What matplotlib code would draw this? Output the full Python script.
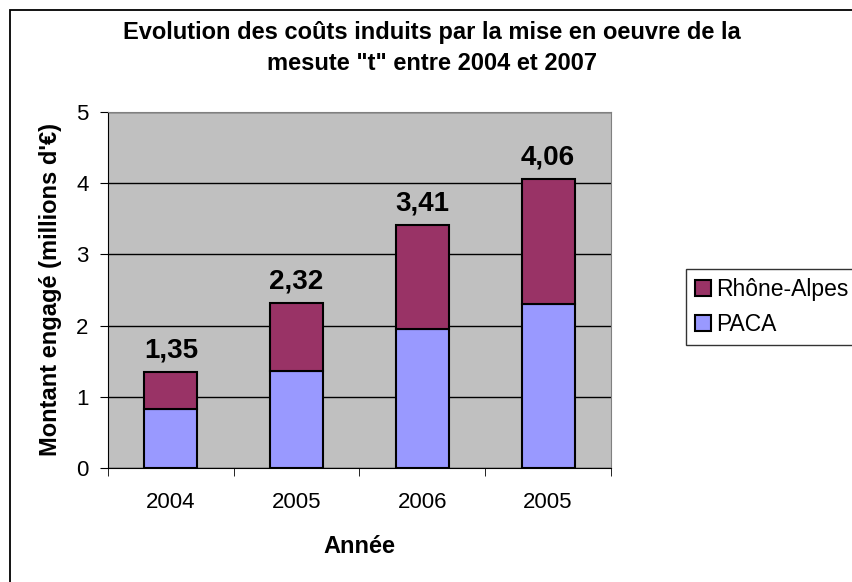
import matplotlib
matplotlib.use("Agg")
import matplotlib.pyplot as plt
from matplotlib.patches import Rectangle
import numpy as np

plt.rcParams["font.family"] = ["Liberation Sans", "DejaVu Sans"]

years = ["2004", "2005", "2006", "2005"]
paca = [0.83, 1.36, 1.95, 2.30]
totals = [1.35, 2.32, 3.41, 4.06]
rhone = [t - p for t, p in zip(totals, paca)]
total_labels = ["1,35", "2,32", "3,41", "4,06"]

fig = plt.figure(figsize=(8.53, 5.82), dpi=100)
ax = fig.add_axes([108 / 853, 1 - 468 / 582, (611 - 108) / 853, (468 - 112) / 582])

# outer chart border (only top and left edges fall inside the image)
fig.patches.append(Rectangle((10 / 853, -0.1), 1.2, 1 - 10 / 582 + 0.1,
                             transform=fig.transFigure, fill=False,
                             edgecolor="black", linewidth=1.3))

x = np.arange(len(years))
ax.set_facecolor("#C0C0C0")
ax.bar(x, paca, 0.42, color="#9999FF", edgecolor="black", linewidth=1.5,
       label="PACA", zorder=3)
ax.bar(x, rhone, 0.42, bottom=paca, color="#993366", edgecolor="black",
       linewidth=1.5, label="Rhône-Alpes", zorder=3)

for xi, t, lab in zip(x, totals, total_labels):
    ax.text(xi, t + 0.12, lab, ha="center", va="bottom", fontsize=20,
            fontweight="bold")

ax.set_xlim(-0.5, 3.5)
ax.set_ylim(0, 5)
ax.set_yticks(range(6))
ax.set_xticks(x)
ax.set_xticklabels(years)
ax.set_xticks(np.arange(-0.5, 4, 1), minor=True)
ax.tick_params(axis="x", which="major", length=0, labelsize=16, pad=17)
ax.tick_params(axis="x", which="minor", length=6, direction="out")
ax.tick_params(axis="y", labelsize=16, length=6, direction="out", pad=8)
ax.grid(True, axis="y", color="black", linewidth=1, zorder=1)
for s in ["top", "right"]:
    ax.spines[s].set_color("#808080")
for s in ["left", "bottom"]:
    ax.spines[s].set_color("black")

ax.set_xlabel("Année", fontsize=17, fontweight="bold", labelpad=16)
ax.set_ylabel("Montant engagé (millions d'€)", fontsize=17,
              fontweight="bold", labelpad=10)

fig.text(0.506, 1 - 33 / 582, "Evolution des coûts induits par la mise en oeuvre de la",
         ha="center", va="center", fontsize=17, fontweight="bold")
fig.text(0.506, 1 - 64 / 582, "mesute \"t\" entre 2004 et 2007",
         ha="center", va="center", fontsize=17, fontweight="bold")

handles, labels = ax.get_legend_handles_labels()
leg = fig.legend(handles[::-1], labels[::-1], loc="upper left",
                 bbox_to_anchor=(686 / 853, 1 - 269 / 582), fontsize=16.5,
                 frameon=True, fancybox=False, edgecolor="black",
                 handlelength=0.7, handleheight=0.7, handletextpad=0.2,
                 labelspacing=0.5, borderpad=0.4, borderaxespad=0)
leg.get_frame().set_linewidth(1)

fig.savefig("out.png", dpi=100, facecolor="white")
